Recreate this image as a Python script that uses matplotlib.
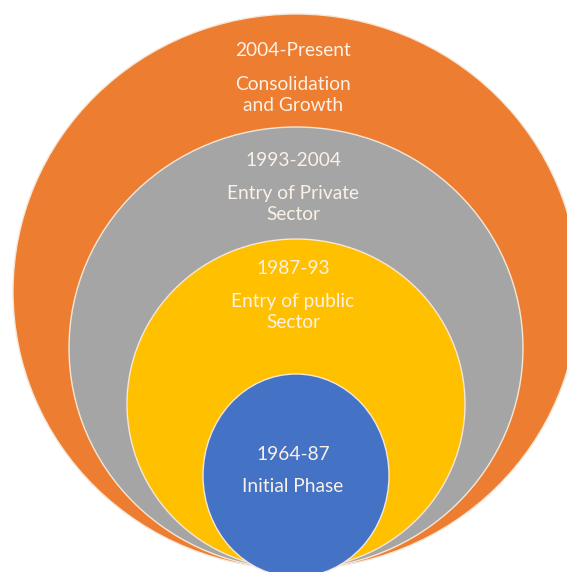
import matplotlib
matplotlib.use("Agg")
import matplotlib.pyplot as plt
from matplotlib.patches import Ellipse

# phases, outermost first
periods = ["2004-Present", "1993-2004", "1987-93", "1964-87"]
titles = ["Consolidation\nand Growth", "Entry of Private\nSector",
          "Entry of public\nSector", "Initial Phase"]
colors = ["#ED7D31", "#A5A5A5", "#FFC000", "#4472C4"]

# layout (pixel coords of the 567x572 canvas): centre x, top, bottom, half width
cx = 296
tops = [14, 127, 239, 374]
bottom = 569
half_w = [283, 227, 169, 93]
period_y = [51, 161, 268, 454]
title_y = [95, 204, 312, 487]

fig = plt.figure(figsize=(5.67, 5.72), dpi=100)
ax = fig.add_axes([0, 0, 1, 1])
ax.set_xlim(0, 567)
ax.set_ylim(572, 0)
ax.axis("off")

txt_color = "#FBF1E6"
for i in range(len(periods)):
    h = bottom - tops[i]
    if i == 3:
        h += 8
    e = Ellipse((cx, tops[i] + h / 2), 2 * half_w[i], h,
                facecolor=colors[i], edgecolor="#F6E6D6", linewidth=1.0)
    ax.add_patch(e)
    ax.text(293, period_y[i], periods[i], ha="center", va="center",
            fontsize=13.8, color=txt_color, family="Lato")
    ax.text(293, title_y[i], titles[i], ha="center", va="center",
            fontsize=13.8, color=txt_color, family="Lato", linespacing=1.3)

plt.savefig("out.png", dpi=100)
